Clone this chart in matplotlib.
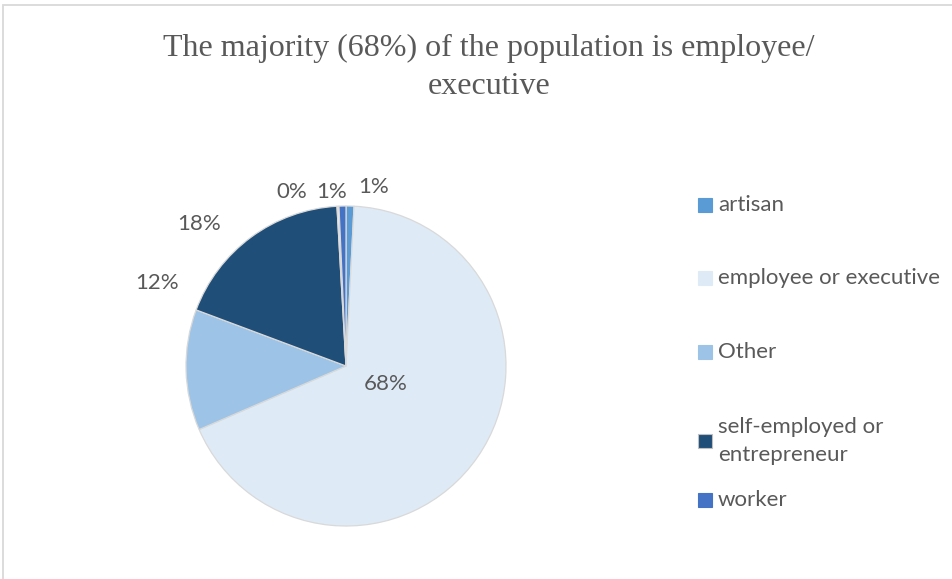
import matplotlib
matplotlib.use("Agg")
import matplotlib.pyplot as plt
from matplotlib.patches import Rectangle

# occupation shares, clockwise from 12 o'clock
categories = ["artisan", "employee or executive", "Other",
              "self-employed or\nentrepreneur", "", "worker"]
shares = [0.8, 67.7, 12.2, 18.4, 0.2, 0.7]
colors = ["#5B9BD5", "#DEEBF7", "#9DC3E6", "#1F4E79", "#F2F2F2", "#4472C4"]

title = "The majority (68%) of the population is employee/\nexecutive"

# where each percentage label sits, in pie radius units
label_pos = [(0.175, 1.12), (0.25, -0.11), (-1.18, 0.52),
             (-0.92, 0.89), (-0.34, 1.09), (-0.0875, 1.09)]

W, H = 953, 579
fig = plt.figure(figsize=(W / 100, H / 100), dpi=100)
txt = "#595959"
font = "Lato"

# chart frame
fig.add_artist(Rectangle((3 / W, -0.1), 1.2, 1 - 5 / H + 0.1, transform=fig.transFigure,
                         fill=False, ec="#D9D9D9", lw=1.3))

fig.text(489 / W, 1 - 34 / H, title, ha="center", va="top", fontsize=23,
         family="Liberation Serif", color=txt, linespacing=1.4)

cx, cy, r = 346, 366, 160
ax = fig.add_axes([(cx - r) / W, (H - cy - r) / H, 2 * r / W, 2 * r / H])

wedges, _, pcts = ax.pie(shares, colors=colors, startangle=90, counterclock=False,
                         radius=1, autopct="%.0f%%",
                         wedgeprops=dict(edgecolor="#D9D9D9", linewidth=0.9),
                         textprops=dict(color=txt, fontsize=16, family=font))
ax.set_xlim(-1, 1)
ax.set_ylim(-1, 1)
ax.axis("off")
for t, (x, y) in zip(pcts, label_pos):
    t.set_position((x, y))
    t.set_clip_on(False)

# legend, skipping the unnamed slice
leg_y = [205, 278, 352, 441, 500]
named = [i for i, c in enumerate(categories) if c]
for i, y in zip(named, leg_y):
    fig.add_artist(Rectangle((698 / W, (H - y - 7) / H), 14 / W, 14 / H,
                             transform=fig.transFigure, fc=colors[i],
                             ec="#BFBFBF" if i == 3 else colors[i], lw=0.8))
    fig.text(718 / W, (H - y) / H, categories[i], ha="left", va="center",
             fontsize=16, family=font, color=txt, linespacing=1.5)

fig.savefig("out.png", dpi=100)
